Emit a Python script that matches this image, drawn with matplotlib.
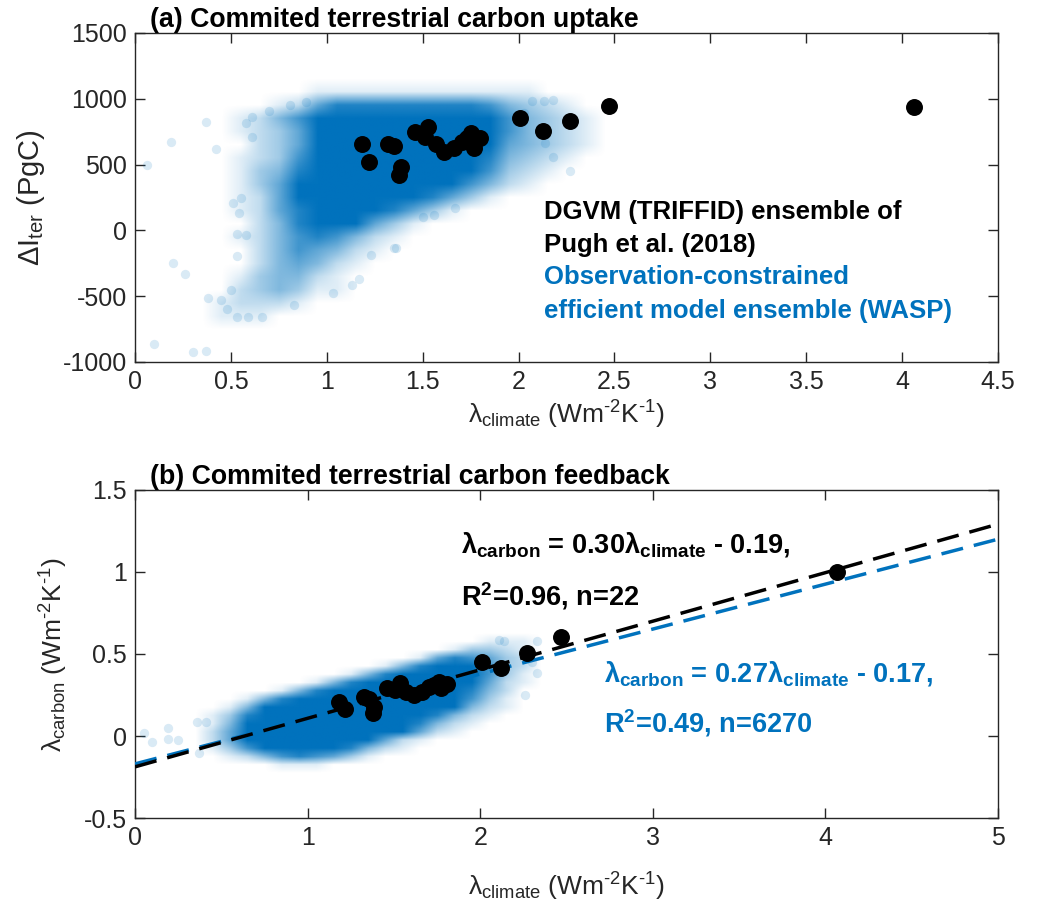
import numpy as np
import matplotlib
matplotlib.use('Agg')
import matplotlib.pyplot as plt
from matplotlib.ticker import FuncFormatter
from matplotlib.colors import to_rgb

plt.rcParams['font.family'] = ['Liberation Sans', 'DejaVu Sans']
plt.rcParams['mathtext.fontset'] = 'custom'
plt.rcParams['mathtext.rm'] = 'Liberation Sans'
plt.rcParams['mathtext.it'] = 'Liberation Sans:italic'
plt.rcParams['mathtext.bf'] = 'Liberation Sans:bold'
plt.rcParams['axes.unicode_minus'] = False
plt.rcParams['lines.scale_dashes'] = False

BLUE = '#0072BD'

# ---------------- data ----------------
# DGVM (TRIFFID) ensemble, 22 members
dgvm_clim_a = [1.183, 1.220, 1.319, 1.348, 1.387, 1.374, 1.462, 1.527, 1.510, 1.570, 1.613,
               1.664, 1.706, 1.753, 1.766, 1.800, 1.730, 2.005, 2.125, 2.270, 2.473, 4.064]
dgvm_dI = [654, 517, 654, 644, 483, 420, 745, 788, 712, 656, 598,
           623, 674, 738, 623, 705, 700, 853, 752, 828, 942, 937]
dgvm_clim_b = [1.181, 1.219, 1.324, 1.358, 1.387, 1.381, 1.457, 1.533, 1.505, 1.570, 1.619,
               1.660, 1.705, 1.762, 1.770, 1.810, 1.730, 2.013, 2.120, 2.270, 2.469, 4.065]
dgvm_carb = [0.205, 0.162, 0.240, 0.223, 0.179, 0.138, 0.290, 0.321, 0.280, 0.270, 0.250,
             0.270, 0.296, 0.331, 0.290, 0.320, 0.310, 0.453, 0.414, 0.504, 0.606, 0.998]

# WASP ensemble (n=6270): density levels (0-9)
# panel (a): columns x = 0.4..2.6 step 0.1, rows y = 1100 (top) .. -700 step 100
wasp_a_x_edges = (0.4, 2.6)
wasp_a_y_edges = (-700, 1100)
wasp_a_density = [
    "0000011111111111100000",
    "0001257777777764321000",
    "0124689999999986432100",
    "0123589999999986432100",
    "0023589999999985432100",
    "0123689999999974321000",
    "0134799999999863210000",
    "0135899999998642100000",
    "0125899999975310000000",
    "0125799997531000000000",
    "0024788853100000000000",
    "0124676421000000000000",
    "0024654210000000000000",
    "0024542100000000000000",
    "0134421000000000000000",
    "0234311000000000000000",
    "1222100000000000000000",
    "1110000000000000000000",
]
# sparse WASP members outside the dense cloud, panel (a)
wasp_a_out_x = [0.06, 0.19, 0.37, 0.42, 0.20, 0.26, 0.38, 0.10, 0.30, 0.37, 0.51, 0.55, 0.54,
                0.53, 0.58, 0.53, 0.45, 0.48, 0.50, 0.53, 0.59, 0.66, 0.83, 1.03, 1.13, 1.17,
                1.23, 1.36, 1.50, 0.61, 0.58, 0.70, 0.81, 0.89, 0.61, 1.67, 1.56, 1.35, 2.27,
                2.18, 2.07, 2.13, 2.18, 2.03, 2.14]
wasp_a_out_y = [497, 675, 827, 619, -251, -335, -515, -863, -924, -916, 211, 249, 129,
                -28, -38, -193, -530, -594, -454, -662, -662, -662, -568, -475, -416, -373,
                -188, -137, 99, 865, 815, 904, 954, 975, 713, 169, 119, -134, 448,
                557, 980, 980, 987, 891, 663]

# panel (b): columns x = 0.4..2.3 step 0.1, rows y = 0.6 (top) .. -0.2 step 0.05
wasp_b_x_edges = (0.4, 2.3)
wasp_b_y_edges = (-0.2, 0.6)
wasp_b_density = [
    "0000000000000000111",
    "0000000000000013321",
    "0000000000001576532",
    "0000000000147998632",
    "0000000014799999631",
    "0000001479999998521",
    "0000147999999997420",
    "0014799999999996310",
    "0148999999999984210",
    "1379999999999742100",
    "1489999999997421000",
    "2589999999985210000",
    "2589999998521000000",
    "1368999974210000000",
    "0124676531000000000",
    "0000111000000000000",
]
wasp_b_out_x = [0.05, 0.10, 0.19, 0.19, 0.25, 0.36, 0.41, 0.37, 2.11, 2.14, 2.33, 2.33, 2.26, 2.30]
wasp_b_out_y = [0.02, -0.035, 0.047, -0.018, -0.024, 0.087, 0.087, -0.106, 0.587, 0.577,
                0.577, 0.384, 0.252, 0.45]

# regression lines
fit_dgvm = (0.296, -0.188)
fit_wasp = (0.274, -0.17)
line_x = [0, 5]

# ---------------- figure ----------------
fig = plt.figure(figsize=(10.51, 9.15), dpi=100)
ax1 = fig.add_axes([0.1285, 0.6044, 0.8211, 0.3596])
ax2 = fig.add_axes([0.1285, 0.1060, 0.8211, 0.3585])

rgb = np.array(to_rgb(BLUE))


def density_image(ax, rows, xe, ye):
    lev = np.array([[int(c) for c in r] for r in rows], dtype=float)
    ny, nx = lev.shape
    dx = (xe[1] - xe[0]) / nx
    dy = (ye[1] - ye[0]) / ny
    lev = np.pad(lev, 1)
    img = np.zeros(lev.shape + (4,))
    img[..., :3] = rgb
    img[..., 3] = np.clip(lev / 8.0, 0, 1)
    ax.imshow(img, extent=[xe[0] - dx, xe[1] + dx, ye[0] - dy, ye[1] + dy], origin='upper',
              aspect='auto', interpolation='bilinear', zorder=1)


fmt = FuncFormatter(lambda v, p: ('%g' % v))


def style(ax):
    for s in ax.spines.values():
        s.set_color('#262626')
        s.set_linewidth(1.0)
    ax.tick_params(direction='in', length=7, width=1.0, top=True, right=True,
                   labelsize=18, colors='#262626', pad=6)
    ax.xaxis.set_major_formatter(fmt)
    ax.yaxis.set_major_formatter(fmt)


unit = r'(Wm$^{\text{-2}}$K$^{\text{-1}}$)'

# panel (a)
density_image(ax1, wasp_a_density, wasp_a_x_edges, wasp_a_y_edges)
ax1.scatter(wasp_a_out_x, wasp_a_out_y, s=45, color=BLUE, alpha=0.15, linewidths=0, zorder=2)
ax1.scatter(dgvm_clim_a, dgvm_dI, s=125, color='black', zorder=4)
ax1.set_xlim(0, 4.5)
ax1.set_ylim(-1000, 1500)
ax1.set_xticks(np.arange(0, 4.51, 0.5))
ax1.set_yticks(np.arange(-1000, 1501, 500))
style(ax1)
ax1.text(0.017, 1.0, '(a) Commited terrestrial carbon uptake', transform=ax1.transAxes,
         fontsize=19.2, fontweight='bold', va='bottom', ha='left')
ax1.set_xlabel('λ$_{\\rm climate}$ ' + unit, fontsize=19, color='#262626')
ax1.xaxis.set_label_coords(0.5, -0.112)
ax1.set_ylabel(r'$\Delta$I$_{\rm ter}$ (PgC)', fontsize=21, color='#262626')
ax1.yaxis.set_label_coords(-0.102, 0.5)
ax1.text(2.13, 141, 'DGVM (TRIFFID) ensemble of', fontsize=18.5, fontweight='bold', va='center')
ax1.text(2.13, -109, 'Pugh et al. (2018)', fontsize=18.5, fontweight='bold', va='center')
ax1.text(2.13, -355, 'Observation-constrained', fontsize=18.5, fontweight='bold', va='center', color=BLUE)
ax1.text(2.13, -609, 'efficient model ensemble (WASP)', fontsize=18.5, fontweight='bold', va='center', color=BLUE)

# panel (b)
density_image(ax2, wasp_b_density, wasp_b_x_edges, wasp_b_y_edges)
ax2.scatter(wasp_b_out_x, wasp_b_out_y, s=45, color=BLUE, alpha=0.15, linewidths=0, zorder=2)
lx = np.array(line_x, dtype=float)
ax2.plot(lx, fit_wasp[0] * lx + fit_wasp[1], color=BLUE, lw=2.5, dashes=(16, 8), zorder=3)
ax2.plot(lx, fit_dgvm[0] * lx + fit_dgvm[1], color='black', lw=2.5, dashes=(16, 8), zorder=3.5)
ax2.scatter(dgvm_clim_b, dgvm_carb, s=125, color='black', zorder=4)
ax2.set_xlim(0, 5)
ax2.set_ylim(-0.5, 1.5)
ax2.set_xticks(np.arange(0, 5.01, 1))
ax2.set_yticks(np.arange(-0.5, 1.51, 0.5))
style(ax2)
ax2.text(0.017, 1.0, '(b) Commited terrestrial carbon feedback', transform=ax2.transAxes,
         fontsize=19.2, fontweight='bold', va='bottom', ha='left')
ax2.set_xlabel('λ$_{\\rm climate}$ ' + unit, fontsize=19, color='#262626')
ax2.xaxis.set_label_coords(0.5, -0.16)
ax2.set_ylabel('λ$_{\\rm carbon}$ ' + unit, fontsize=19, color='#262626')
ax2.yaxis.set_label_coords(-0.075, 0.5)
ax2.text(1.89, 1.167, 'λ$_{\\mathbf{carbon}}$ = 0.30λ$_{\\mathbf{climate}}$ - 0.19,',
         fontsize=19.5, fontweight='bold', va='center')
ax2.text(1.89, 0.852, r'R$^{\mathbf{2}}$=0.96, n=22', fontsize=19.5, fontweight='bold', va='center')
ax2.text(2.715, 0.384, 'λ$_{\\mathbf{carbon}}$ = 0.27λ$_{\\mathbf{climate}}$ - 0.17,',
         fontsize=19.5, fontweight='bold', va='center', color=BLUE)
ax2.text(2.715, 0.079, r'R$^{\mathbf{2}}$=0.49, n=6270', fontsize=19.5, fontweight='bold', va='center', color=BLUE)

fig.savefig('out.png', dpi=100)
